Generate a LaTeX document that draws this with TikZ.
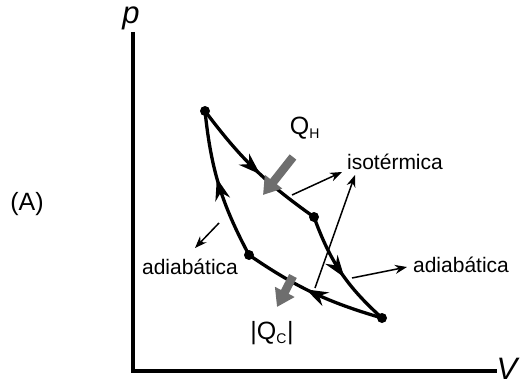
\documentclass[tikz,border=0pt]{standalone}
\usepackage{fontspec}
\setmainfont{Liberation Sans}
\usetikzlibrary{arrows.meta,decorations.markings}

\begin{document}
\begin{tikzpicture}[
  x=1pt, y=-1pt,
  font=\fontsize{21}{24}\selectfont,
  state/.style={circle,fill,inner sep=0pt,minimum size=10pt},
  path/.style={line width=3.3pt,
    decoration={markings,mark=at position 0.55 with {\arrow{Stealth[length=22pt,width=15pt]}}},
    postaction={decorate}},
  heat/.style={line width=8.5pt,draw=black!57,-{Triangle[length=17pt,width=21pt]}},
  note/.style={line width=1.5pt,-{Stealth[length=12pt,width=9pt]}},
  axis/.style={line width=3.4pt},
  axlabel/.style={font=\fontsize{31}{33}\selectfont\itshape,inner sep=0pt}]
\useasboundingbox (0,0) rectangle (522,385);
% axes
\coordinate (O) at (133,371);
\coordinate (ytop) at (133,32);
\coordinate (xend) at (497,371);
\draw[axis] (ytop) -- (O) -- (xend);
\node[axlabel] (plab) at (131,18) {p};
\node[axlabel] (vlab) at (507,369) {V};
\node[font=\fontsize{25}{28}\selectfont] (tag) at (27,204) {(A)};
% states of the cycle
\node[state] (a) at (205,111) {};
\node[state] (b) at (314,217) {};
\node[state] (c) at (382,318) {};
\node[state] (d) at (249,255) {};
\draw[path] (a.center) to[bend right=9] (b.center);
\draw[path] (b.center) to[bend right=14] (c.center);
\draw[path] (c.center) to[bend left=9] (d.center);
\draw[path] (d.center) to[bend left=11] (a.center);
% heat flows
\coordinate (qh0) at (293,157);
\coordinate (qh1) at (263,195);
\draw[heat] (qh0) -- (qh1);
\node[font=\fontsize{25}{28}\selectfont] (qh) at (305,128) {Q\textsubscript{\fontsize{14}{16}\selectfont H}};
\coordinate (qc0) at (293,276);
\coordinate (qc1) at (277,307);
\draw[heat] (qc0) -- (qc1);
\node[font=\fontsize{25}{28}\selectfont] (qc) at (272,333) {|Q\textsubscript{\fontsize{14}{16}\selectfont C}|};
% labels
\node (iso) at (395,162) {isotérmica};
\node (adr) at (461,265) {adiabática};
\node (adl) at (190,267) {adiabática};
\coordinate (n1) at (292,195);
\coordinate (n1e) at (342,172);
\coordinate (n2) at (315,288);
\coordinate (n2e) at (355,175);
\coordinate (n3) at (352,278);
\coordinate (n3e) at (407,267);
\coordinate (n4) at (219,223);
\coordinate (n4e) at (195,248);
\draw[note] (n1) -- (n1e);
\draw[note] (n2) -- (n2e);
\draw[note] (n3) -- (n3e);
\draw[note] (n4) -- (n4e);
\end{tikzpicture}
\end{document}
